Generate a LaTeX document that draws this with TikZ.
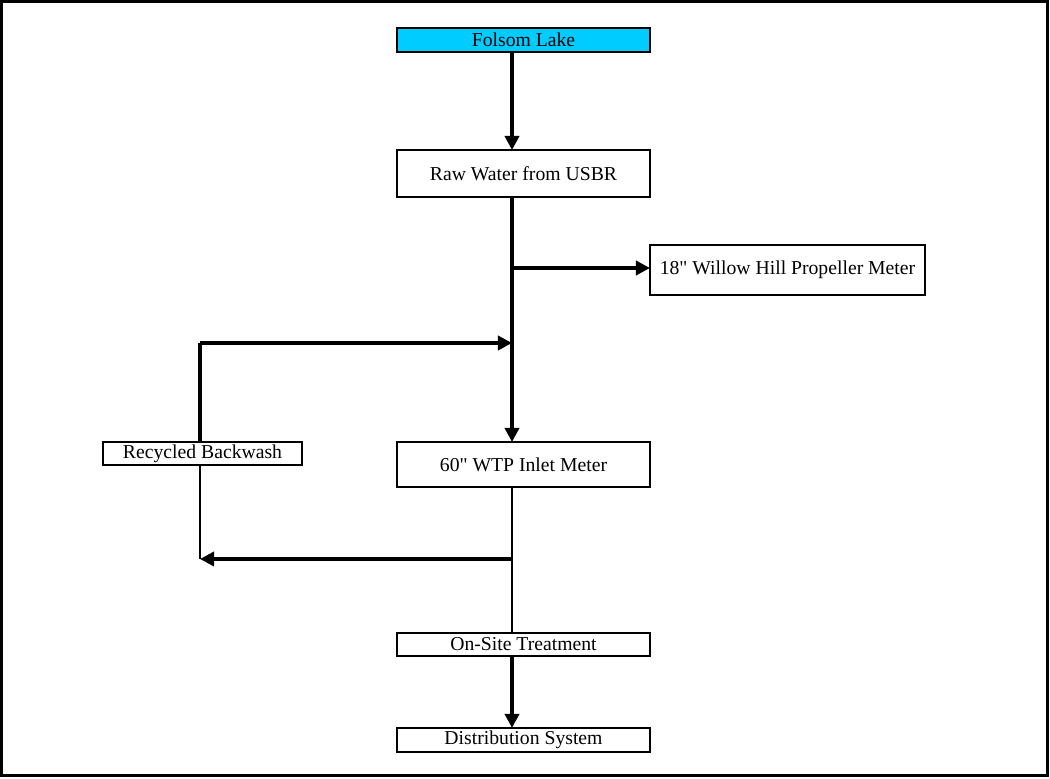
\documentclass[tikz,border=0pt]{standalone}
\usepackage{fontspec}
\setmainfont{Liberation Serif}
\usepackage{tikz}
\usetikzlibrary{arrows.meta}

\definecolor{lakeblue}{HTML}{00CCFF}
\newcommand{\inchmark}{\XeTeXglyph\XeTeXcharglyph"0022\relax}

\tikzset{
  box/.style={draw, line width=1.6pt, fill=white, inner sep=0pt, outer sep=0pt,
    font=\fontsize{14}{16}\selectfont},
  flow/.style={line width=2.6pt, -{Triangle[length=10pt,width=10pt]}},
  pipe/.style={line width=2.6pt},
  thinpipe/.style={line width=1.1pt}
}

\begin{document}
\begin{tikzpicture}[x=0.025cm, y=-0.025cm]
    \useasboundingbox (0,0) rectangle (1050,778);
    % Draw outer frame
    \draw[line width=2.4pt] (1.5,1.5) rectangle (1047.5,775.5);

    % Junction points
    \coordinate (trunk) at (512,0);
    \coordinate (tap) at (512,268);
    \coordinate (bwin) at (200,343);
    \coordinate (bwout) at (512,559);

    % Boxes
    \node[box, fill=lakeblue, minimum width=6.325cm, minimum height=0.6cm] (lake) at (523.5,40) {Folsom Lake};
    \foreach \n/\x/\y/\w/\h/\t in {raw/523.5/173.5/6.325/1.175/Raw Water from USBR,
        meter/787.5/270/6.875/1.25/18\inchmark{} Willow Hill Propeller Meter,
        backwash/202.5/453.5/4.975/0.575/Recycled Backwash,
        inlet/523.5/464.5/6.325/1.125/60\inchmark{} WTP Inlet Meter,
        treat/523.5/644.5/6.325/0.575/On-Site Treatment,
        dist/523.5/740/6.325/0.6/Distribution System} {
      \node[box, minimum width=\w cm, minimum height=\h cm] (\n) at (\x,\y) {\t};
    }

    % Main line
    \draw[flow] (lake.south -| trunk) -- (raw.north -| trunk);
    \draw[flow] (raw.south -| trunk) -- (inlet.north -| trunk);
    \draw[flow] (tap) -- (tap -| meter.west);

    % Backwash loop
    \draw[pipe] (bwin) -- (backwash.north -| bwin);
    \draw[flow] (bwin) -- (bwin -| trunk);
    \draw[thinpipe] (backwash.south -| bwin) -- (bwout -| bwin);
    \draw[flow] (bwout) -- (bwout -| bwin);

    % Treatment and distribution
    \draw[thinpipe] (inlet.south -| trunk) -- (treat.north -| trunk);
    \draw[flow] (treat.south -| trunk) -- (dist.north -| trunk);
\end{tikzpicture}
\end{document}
